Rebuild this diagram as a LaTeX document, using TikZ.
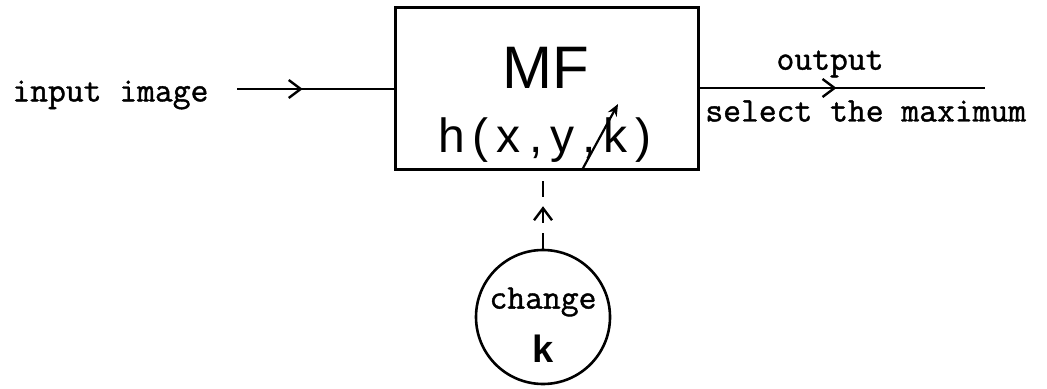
\documentclass[tikz,border=0pt]{standalone}
\usepackage{fontspec}
\setmainfont{Liberation Sans}
\newfontfamily\tw[FakeBold=1.2]{Latin Modern Mono}
\usetikzlibrary{decorations.markings,arrows.meta}
\begin{document}
\begin{tikzpicture}[x=0.5pt,y=-0.5pt,
  wire/.style={line width=1.2pt},
  midarrow/.style={postaction={decorate},decoration={markings,mark=at position #1 with {\arrow{Straight Barb[length=6pt,width=9pt,line width=1.2pt]}}}},
  label/.style={font=\tw\fontsize{17.3}{20}\selectfont, inner sep=0pt}]
\useasboundingbox (0,0) rectangle (1047,389);
\node[draw, line width=1.5pt, minimum width=151.5pt, minimum height=81pt, inner sep=0pt] (mf) at (546.5,89) {};
\node[font=\fontsize{30}{30}\selectfont, inner sep=0pt] (mft) at (546,68) {MF};
\node[font=\fontsize{24}{24}\selectfont, inner sep=0pt] (h) at (545,140) {h\,(\,x\,,\,y\,,\,k\,)};
\node[label, anchor=west] (in) at (12,95) {input image};
\coordinate (inS) at (237,89);
\coordinate (outE) at (985,88);
\node[label] (out) at (830,64) {output};
\node[label, anchor=west] (sel) at (705,111) {select the maximum};
\node[draw, circle, line width=1.3pt, minimum size=67pt, inner sep=0pt] (chg) at (543,317) {};
\node[label] (ct) at (543,302) {change};
\node[font=\bfseries\fontsize{19}{19}\selectfont, inner sep=0pt] (kk) at (543,349) {k};
\draw[wire, midarrow=0.42] (inS) -- (mf.west |- inS);
\draw[wire, midarrow=0.48] (mf.east |- outE) -- (outE);
\draw[wire, dashed, dash pattern=on 8pt off 5pt, midarrow=0.55] (chg.north) -- (mf.south -| chg.north);
\coordinate (s1) at (582,170);
\coordinate (s2) at (618,104);
\draw[line width=1.1pt, -{Stealth[length=6pt,width=5pt]}] (s1) -- (s2);
\end{tikzpicture}
\end{document}
